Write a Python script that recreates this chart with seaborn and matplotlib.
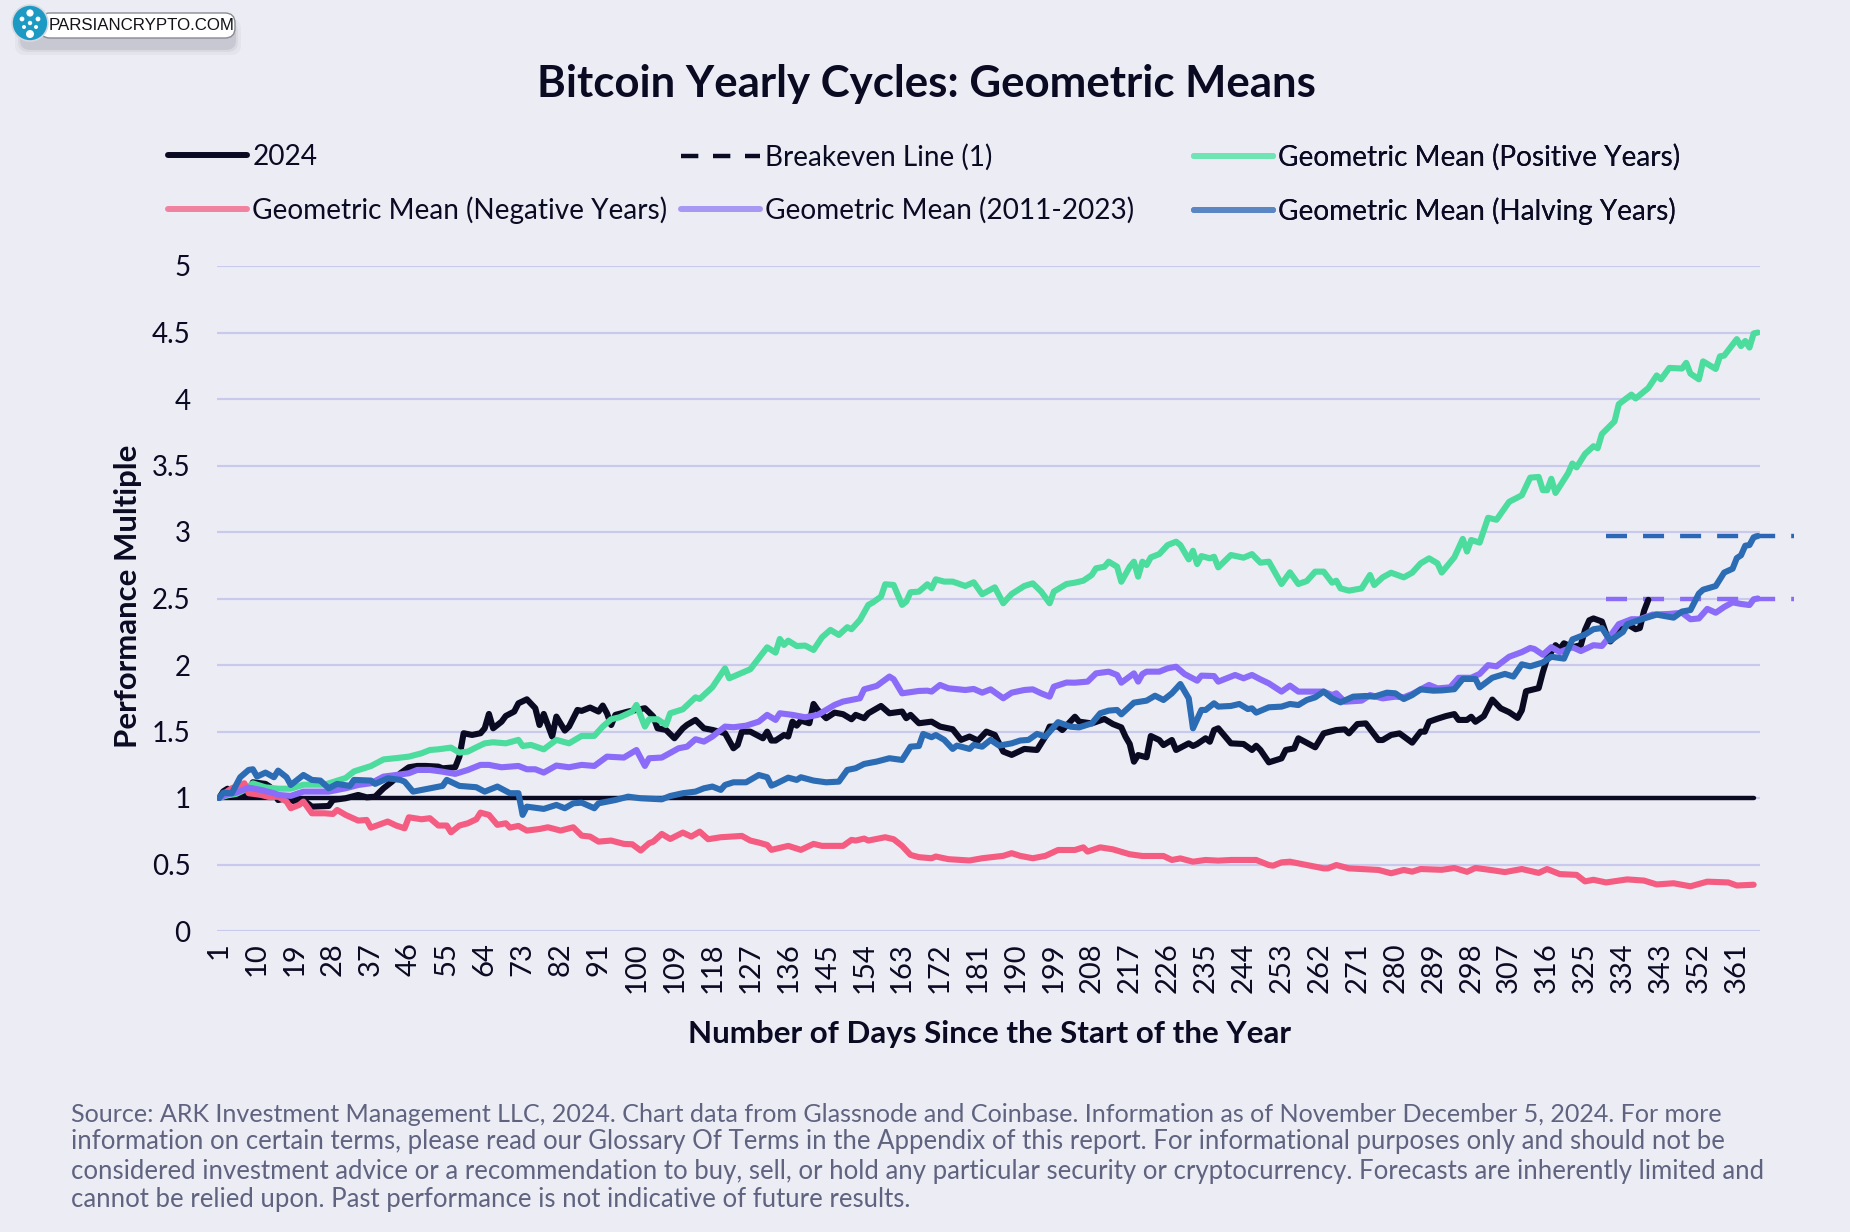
import matplotlib
matplotlib.use('Agg')
import matplotlib.pyplot as plt
import pandas as pd
import seaborn as sns
from matplotlib.lines import Line2D
from matplotlib.patches import Circle, FancyBboxPatch

# Значения: (день, множитель)
cycle_2024 = [
    (1, 1.0), (2, 1.05), (3, 1.07), (4, 1.02), (6, 1.01), (8, 1.048), (9, 1.118), (12, 1.106), (13, 1.086),
    (14, 1.036), (15, 0.985), (17, 0.998), (19, 0.973), (21, 0.985), (23, 0.935), (27, 0.94), (28, 0.985),
    (31, 0.998), (34, 1.023), (36, 1.005), (38, 1.01), (40, 1.073), (42, 1.123), (44, 1.186), (46, 1.231),
    (48, 1.241), (50, 1.241), (53, 1.236), (54, 1.223), (57, 1.231), (58, 1.311), (59, 1.487), (61, 1.474),
    (63, 1.487), (64, 1.524), (65, 1.632), (66, 1.524), (68, 1.574), (69, 1.617), (71, 1.65), (72, 1.712),
    (74, 1.742), (76, 1.675), (77, 1.549), (78, 1.632), (80, 1.462), (81, 1.612), (83, 1.507), (84, 1.537),
    (86, 1.662), (87, 1.655), (89, 1.68), (91, 1.65), (92, 1.695), (93, 1.637), (94, 1.549), (95, 1.625),
    (98, 1.65), (100, 1.662), (102, 1.675), (104, 1.612), (105, 1.524), (107, 1.512), (109, 1.449),
    (111, 1.524), (112, 1.55), (114, 1.587), (116, 1.524), (118, 1.512), (121, 1.487), (123, 1.374),
    (124, 1.399), (125, 1.499), (127, 1.499), (130, 1.449), (131, 1.499), (132, 1.432), (133, 1.432),
    (135, 1.474), (136, 1.462), (137, 1.574), (138, 1.544), (139, 1.582), (141, 1.562), (142, 1.707),
    (143, 1.662), (145, 1.6), (147, 1.642), (149, 1.63), (151, 1.592), (152, 1.625), (154, 1.6), (155, 1.637),
    (158, 1.692), (160, 1.637), (163, 1.65), (164, 1.6), (165, 1.625), (167, 1.562), (170, 1.574),
    (172, 1.537), (175, 1.517), (177, 1.437), (179, 1.462), (181, 1.432), (183, 1.499), (185, 1.474),
    (187, 1.349), (189, 1.324), (192, 1.369), (195, 1.361), (197, 1.462), (198, 1.537), (200, 1.537),
    (201, 1.511), (204, 1.611), (205, 1.574), (208, 1.561), (211, 1.594), (213, 1.556), (215, 1.531),
    (216, 1.461), (217, 1.406), (218, 1.273), (219, 1.323), (221, 1.306), (222, 1.466), (224, 1.436),
    (225, 1.398), (227, 1.436), (228, 1.361), (231, 1.411), (232, 1.391), (233, 1.406), (235, 1.449),
    (236, 1.423), (237, 1.511), (238, 1.524), (241, 1.411), (244, 1.406), (246, 1.361), (247, 1.393),
    (248, 1.361), (250, 1.268), (253, 1.298), (254, 1.361), (256, 1.373), (257, 1.449), (261, 1.381),
    (263, 1.486), (266, 1.511), (268, 1.516), (269, 1.486), (271, 1.556), (273, 1.561), (276, 1.436),
    (277, 1.436), (279, 1.474), (281, 1.486), (284, 1.416), (286, 1.499), (287, 1.499), (288, 1.574),
    (290, 1.596), (292, 1.616), (294, 1.631), (295, 1.587), (297, 1.587), (298, 1.611), (299, 1.573),
    (301, 1.616), (303, 1.74), (305, 1.674), (307, 1.645), (309, 1.602), (310, 1.659), (311, 1.803),
    (314, 1.826), (315, 1.947), (316, 2.048), (318, 2.149), (319, 2.12), (320, 2.163), (322, 2.134),
    (324, 2.149), (325, 2.264), (326, 2.336), (327, 2.35), (329, 2.327), (330, 2.235), (331, 2.177),
    (333, 2.249), (335, 2.307), (337, 2.269), (338, 2.278), (339, 2.407), (340, 2.49),
]

positive_years = [
    (1, 1.0), (3, 1.02), (5, 1.03), (7, 1.06), (9, 1.11), (12, 1.08), (15, 1.07), (18, 1.07), (21, 1.10),
    (26, 1.10), (28, 1.12), (31, 1.15), (33, 1.20), (37, 1.24), (40, 1.29), (43, 1.30), (46, 1.311),
    (49, 1.336), (51, 1.361), (53, 1.366), (56, 1.379), (58, 1.341), (60, 1.349), (62, 1.381), (64, 1.411),
    (66, 1.419), (69, 1.411), (72, 1.437), (73, 1.391), (75, 1.399), (78, 1.366), (81, 1.437), (84, 1.411),
    (87, 1.467), (90, 1.467), (92, 1.537), (94, 1.592), (96, 1.607), (99, 1.65), (100, 1.70), (102, 1.537),
    (103, 1.592), (105, 1.592), (107, 1.549), (108, 1.637), (111, 1.667), (114, 1.757), (115, 1.745),
    (118, 1.833), (121, 1.975), (122, 1.90), (127, 1.968), (129, 2.05), (131, 2.133), (133, 2.093),
    (134, 2.196), (135, 2.151), (136, 2.183), (138, 2.143), (140, 2.146), (142, 2.113), (144, 2.208),
    (146, 2.264), (148, 2.226), (150, 2.284), (151, 2.269), (153, 2.339), (155, 2.452), (156, 2.469),
    (158, 2.514), (159, 2.607), (161, 2.602), (163, 2.452), (164, 2.477), (165, 2.547), (167, 2.552),
    (169, 2.607), (170, 2.577), (171, 2.644), (173, 2.627), (175, 2.627), (178, 2.594), (180, 2.622),
    (182, 2.532), (185, 2.584), (187, 2.464), (189, 2.534), (192, 2.594), (194, 2.614), (196, 2.552),
    (198, 2.464), (199, 2.552), (202, 2.609), (204, 2.619), (206, 2.634), (208, 2.677), (209, 2.727),
    (211, 2.739), (212, 2.777), (214, 2.739), (215, 2.626), (217, 2.739), (218, 2.777), (219, 2.664),
    (220, 2.777), (221, 2.752), (222, 2.809), (224, 2.834), (226, 2.902), (228, 2.927), (229, 2.902),
    (231, 2.794), (232, 2.859), (233, 2.759), (234, 2.819), (236, 2.802), (237, 2.814), (238, 2.734),
    (241, 2.827), (244, 2.807), (246, 2.834), (248, 2.769), (250, 2.777), (252, 2.664), (253, 2.609),
    (255, 2.697), (257, 2.609), (259, 2.631), (261, 2.702), (263, 2.702), (265, 2.619), (266, 2.634),
    (267, 2.576), (269, 2.559), (272, 2.576), (274, 2.677), (275, 2.601), (277, 2.659), (279, 2.694),
    (282, 2.659), (284, 2.694), (286, 2.764), (288, 2.802), (290, 2.764), (291, 2.695), (294, 2.81),
    (296, 2.948), (297, 2.853), (298, 2.94), (300, 2.92), (302, 3.107), (304, 3.092), (307, 3.227),
    (310, 3.276), (312, 3.409), (314, 3.414), (315, 3.314), (316, 3.314), (317, 3.40), (318, 3.294),
    (321, 3.443), (322, 3.515), (323, 3.486), (325, 3.587), (327, 3.645), (328, 3.63), (329, 3.737),
    (332, 3.832), (333, 3.961), (336, 4.033), (337, 4.004), (340, 4.082), (342, 4.177), (343, 4.148),
    (345, 4.234), (348, 4.229), (349, 4.272), (350, 4.191), (352, 4.148), (353, 4.283), (356, 4.226),
    (357, 4.321), (358, 4.326), (361, 4.45), (362, 4.398), (363, 4.436), (364, 4.387), (365, 4.493),
    (366, 4.5),
]

negative_years = [
    (1, 1.0), (2, 1.03), (4, 1.073), (6, 1.098), (7, 1.111), (8, 1.036), (11, 1.023), (13, 1.006), (15, 1.01),
    (17, 0.973), (18, 0.923), (20, 0.948), (21, 0.973), (23, 0.885), (26, 0.885), (28, 0.88), (29, 0.91),
    (31, 0.873), (34, 0.83), (36, 0.835), (37, 0.777), (41, 0.823), (43, 0.793), (45, 0.772), (46, 0.855),
    (49, 0.84), (51, 0.848), (53, 0.793), (55, 0.793), (56, 0.742), (58, 0.793), (60, 0.81), (62, 0.84),
    (63, 0.89), (65, 0.873), (67, 0.798), (69, 0.81), (70, 0.777), (72, 0.79), (74, 0.755), (77, 0.767),
    (79, 0.78), (82, 0.755), (85, 0.78), (87, 0.717), (89, 0.71), (91, 0.672), (94, 0.68), (97, 0.655),
    (99, 0.652), (101, 0.605), (103, 0.66), (104, 0.672), (106, 0.73), (108, 0.692), (111, 0.74), (113, 0.71),
    (115, 0.747), (117, 0.69), (120, 0.705), (125, 0.715), (127, 0.68), (129, 0.665), (131, 0.647),
    (132, 0.61), (136, 0.64), (139, 0.61), (142, 0.655), (144, 0.64), (149, 0.64), (151, 0.685), (152, 0.68),
    (154, 0.695), (155, 0.68), (159, 0.705), (161, 0.69), (163, 0.64), (165, 0.572), (167, 0.555),
    (170, 0.547), (171, 0.56), (174, 0.54), (179, 0.53), (182, 0.547), (187, 0.565), (189, 0.585),
    (191, 0.565), (194, 0.547), (197, 0.565), (200, 0.609), (204, 0.609), (206, 0.629), (207, 0.597),
    (210, 0.629), (213, 0.614), (217, 0.577), (220, 0.564), (225, 0.564), (227, 0.534), (229, 0.546),
    (232, 0.521), (235, 0.534), (238, 0.529), (241, 0.534), (247, 0.534), (250, 0.496), (251, 0.491),
    (253, 0.516), (255, 0.521), (259, 0.496), (263, 0.471), (264, 0.471), (266, 0.496), (269, 0.471),
    (272, 0.466), (276, 0.459), (279, 0.434), (282, 0.459), (284, 0.446), (286, 0.466), (291, 0.46),
    (294, 0.474), (297, 0.445), (299, 0.474), (303, 0.457), (306, 0.443), (310, 0.466), (314, 0.437),
    (316, 0.466), (319, 0.428), (323, 0.422), (325, 0.373), (327, 0.385), (330, 0.365), (335, 0.388),
    (339, 0.379), (342, 0.35), (346, 0.359), (350, 0.336), (354, 0.371), (359, 0.365), (361, 0.342),
    (365, 0.348),
]

all_years = [
    (1, 1.0), (3, 1.03), (5, 1.04), (8, 1.078), (11, 1.06), (14, 1.036), (15, 1.023), (18, 1.016), (21, 1.048),
    (24, 1.048), (27, 1.048), (31, 1.073), (34, 1.098), (37, 1.111), (40, 1.161), (43, 1.173), (46, 1.186),
    (48, 1.211), (51, 1.211), (54, 1.198), (57, 1.181), (60, 1.211), (63, 1.249), (65, 1.249), (68, 1.231),
    (72, 1.241), (74, 1.216), (76, 1.216), (78, 1.191), (81, 1.244), (84, 1.231), (87, 1.249), (90, 1.241),
    (93, 1.311), (97, 1.304), (100, 1.361), (102, 1.241), (103, 1.299), (106, 1.304), (110, 1.374),
    (112, 1.386), (114, 1.442), (116, 1.424), (118, 1.462), (121, 1.537), (123, 1.532), (126, 1.544),
    (129, 1.574), (131, 1.625), (133, 1.587), (134, 1.637), (137, 1.625), (140, 1.607), (143, 1.625),
    (147, 1.70), (149, 1.725), (153, 1.75), (154, 1.817), (157, 1.843), (160, 1.913), (161, 1.893),
    (163, 1.787), (167, 1.805), (169, 1.807), (170, 1.80), (172, 1.85), (174, 1.825), (178, 1.812),
    (180, 1.82), (182, 1.792), (184, 1.817), (187, 1.75), (189, 1.792), (192, 1.812), (194, 1.817),
    (196, 1.787), (198, 1.762), (199, 1.837), (202, 1.868), (204, 1.867), (207, 1.875), (209, 1.937),
    (212, 1.95), (214, 1.925), (215, 1.867), (218, 1.937), (219, 1.875), (220, 1.932), (221, 1.95),
    (224, 1.95), (226, 1.975), (228, 1.987), (230, 1.932), (233, 1.882), (234, 1.92), (237, 1.917),
    (238, 1.875), (242, 1.925), (244, 1.90), (246, 1.925), (248, 1.892), (250, 1.862), (253, 1.80),
    (255, 1.845), (257, 1.80), (261, 1.80), (263, 1.80), (265, 1.774), (266, 1.787), (268, 1.724),
    (272, 1.732), (274, 1.774), (277, 1.749), (280, 1.762), (282, 1.757), (284, 1.782), (288, 1.85),
    (290, 1.824), (293, 1.832), (295, 1.904), (298, 1.904), (300, 1.933), (302, 1.999), (304, 1.99),
    (307, 2.062), (310, 2.097), (312, 2.128), (313, 2.12), (315, 2.077), (317, 2.134), (319, 2.097),
    (322, 2.134), (324, 2.105), (327, 2.149), (329, 2.143), (331, 2.22), (333, 2.307), (336, 2.344),
    (338, 2.344), (341, 2.379), (345, 2.384), (348, 2.393), (350, 2.344), (352, 2.35), (354, 2.422),
    (356, 2.393), (358, 2.436), (360, 2.471), (362, 2.459), (364, 2.451), (365, 2.494), (366, 2.5),
]

halving_years = [
    (1, 1.0), (2, 1.04), (4, 1.035), (6, 1.156), (8, 1.211), (9, 1.216), (10, 1.161), (12, 1.191), (14, 1.156),
    (15, 1.206), (17, 1.156), (18, 1.098), (21, 1.173), (23, 1.136), (25, 1.131), (27, 1.073), (29, 1.106),
    (32, 1.091), (33, 1.136), (37, 1.131), (38, 1.106), (41, 1.148), (44, 1.136), (45, 1.123), (47, 1.048),
    (51, 1.073), (54, 1.091), (55, 1.136), (58, 1.091), (62, 1.081), (64, 1.048), (67, 1.086), (70, 1.036),
    (72, 1.036), (73, 0.873), (74, 0.935), (78, 0.918), (81, 0.948), (83, 0.923), (85, 0.96), (87, 0.965),
    (90, 0.923), (91, 0.96), (95, 0.985), (98, 1.01), (101, 0.998), (106, 0.99), (108, 1.015), (111, 1.036),
    (114, 1.048), (116, 1.073), (118, 1.086), (120, 1.061), (121, 1.098), (123, 1.118), (126, 1.118),
    (129, 1.173), (131, 1.156), (132, 1.093), (133, 1.106), (136, 1.153), (138, 1.136), (139, 1.156),
    (142, 1.131), (145, 1.118), (148, 1.123), (150, 1.211), (152, 1.224), (154, 1.256), (157, 1.274),
    (160, 1.299), (163, 1.286), (165, 1.386), (167, 1.391), (168, 1.482), (170, 1.457), (171, 1.474),
    (173, 1.437), (175, 1.369), (176, 1.394), (179, 1.369), (180, 1.399), (182, 1.386), (184, 1.437),
    (186, 1.394), (189, 1.411), (191, 1.432), (193, 1.437), (195, 1.482), (197, 1.462), (200, 1.57),
    (203, 1.536), (205, 1.531), (208, 1.561), (210, 1.637), (212, 1.657), (214, 1.662), (215, 1.629),
    (218, 1.717), (221, 1.732), (223, 1.769), (225, 1.737), (227, 1.787), (229, 1.857), (231, 1.749),
    (232, 1.524), (234, 1.662), (235, 1.662), (237, 1.712), (238, 1.687), (241, 1.692), (243, 1.707),
    (245, 1.669), (246, 1.674), (247, 1.642), (250, 1.682), (253, 1.687), (255, 1.707), (257, 1.699),
    (259, 1.737), (261, 1.757), (263, 1.80), (265, 1.749), (267, 1.719), (270, 1.762), (273, 1.767),
    (275, 1.762), (278, 1.792), (280, 1.787), (282, 1.744), (284, 1.774), (286, 1.817), (289, 1.807),
    (291, 1.809), (294, 1.818), (296, 1.895), (299, 1.895), (300, 1.832), (303, 1.904), (306, 1.933),
    (308, 1.913), (310, 2.005), (312, 1.99), (315, 2.019), (317, 2.062), (320, 2.048), (322, 2.192),
    (325, 2.229), (327, 2.269), (329, 2.278), (331, 2.183), (334, 2.249), (335, 2.307), (339, 2.35),
    (342, 2.379), (346, 2.356), (348, 2.402), (350, 2.413), (352, 2.537), (353, 2.566), (356, 2.594),
    (358, 2.695), (360, 2.724), (361, 2.804), (362, 2.825), (363, 2.897), (364, 2.902), (365, 2.96),
    (366, 2.97),
]

breakeven = [(1, 1.0), (365, 1.0)]

# Пунктирные отметки справа: уровни конца года
end_levels = {'halving': 2.967, 'all': 2.496}
end_days = [330, 374.5]

y_ticks = [0, 0.5, 1, 1.5, 2, 2.5, 3, 3.5, 4, 4.5, 5]
y_labels = ['0', '0.5', '1', '1.5', '2', '2.5', '3', '3.5', '4', '4.5', '5']
x_ticks = list(range(1, 362, 9))

title = 'Bitcoin Yearly Cycles: Geometric Means'
footer = [
    'Source: ARK Investment Management LLC, 2024. Chart data from Glassnode and Coinbase. Information as of November December 5, 2024. For more',
    'information on certain terms, please read our Glossary Of Terms in the Appendix of this report. For informational purposes only and should not be',
    'considered investment advice or a recommendation to buy, sell, or hold any particular security or cryptocurrency. Forecasts are inherently limited and',
    'cannot be relied upon. Past performance is not indicative of future results.',
]

BG = '#ecedf4'
INK = '#0a0a23'
colors = {
    '2024': INK,
    'Breakeven Line (1)': INK,
    'Geometric Mean (Positive Years)': '#4bdc9e',
    'Geometric Mean (Negative Years)': '#f55c82',
    'Geometric Mean (2011-2023)': '#8a6cf8',
    'Geometric Mean (Halving Years)': '#2b6cb4',
}
legend_colors = {
    '2024': INK,
    'Breakeven Line (1)': INK,
    'Geometric Mean (Positive Years)': '#6fe4b4',
    'Geometric Mean (Negative Years)': '#f0829f',
    'Geometric Mean (2011-2023)': '#a698f3',
    'Geometric Mean (Halving Years)': '#5a86c4',
}

sns.set_theme(style='whitegrid', rc={
    'figure.facecolor': BG,
    'axes.facecolor': BG,
    'grid.color': '#c9c9ee',
    'grid.linewidth': 1.6,
    'axes.edgecolor': BG,
})
plt.rcParams['font.family'] = ['Lato', 'DejaVu Sans']

W, H = 1850, 1232
fig = plt.figure(figsize=(W / 100, H / 100), dpi=100)
ax = fig.add_axes([217 / W, 1 - 931 / H, (1760 - 217) / W, (931 - 266) / H])

# Полный холст в пикселях для текста и логотипа
ov = fig.add_axes([0, 0, 1, 1], zorder=5)
ov.set_xlim(0, W)
ov.set_ylim(H, 0)
ov.axis('off')
ov.patch.set_alpha(0)

frames = []
for name, rows in [('Breakeven Line (1)', breakeven), ('2024', cycle_2024),
                   ('Geometric Mean (Positive Years)', positive_years),
                   ('Geometric Mean (Negative Years)', negative_years),
                   ('Geometric Mean (2011-2023)', all_years),
                   ('Geometric Mean (Halving Years)', halving_years)]:
    part = pd.DataFrame(rows, columns=['day', 'value'])
    part['series'] = name
    frames.append(part)
df = pd.concat(frames, ignore_index=True)

line_w = {name: 4.4 for name in colors}
line_w['Breakeven Line (1)'] = 3.2
sns.lineplot(data=df, x='day', y='value', hue='series', size='series', sizes=line_w, palette=colors,
             estimator=None, sort=False, legend=False, ax=ax,
             solid_joinstyle='round', solid_capstyle='round')

# Пунктир выходит за правый край осей
ax.plot(end_days, [end_levels['halving']] * 2, color='#2b67b5', lw=3.2, clip_on=False,
        linestyle=(0, (21 / 4.44, 16 / 4.44)), dash_capstyle='butt', zorder=1.5)
ax.plot(end_days, [end_levels['all']] * 2, color='#8a6cf8', lw=3.2, clip_on=False,
        linestyle=(0, (21 / 4.44, 16 / 4.44)), dash_capstyle='butt', zorder=1.5)

ax.set_xlim(0.5, 366.5)
ax.set_ylim(0, 5)
ax.set_yticks(y_ticks)
ax.set_yticklabels(y_labels)
ax.set_xticks(x_ticks)
ax.set_xticklabels([str(d) for d in x_ticks], rotation=90)
ax.grid(False, axis='x')
ax.set_xlabel('')
ax.set_ylabel('')
ax.tick_params(axis='x', length=0, labelsize=21, labelcolor=INK, pad=8)
ax.tick_params(axis='y', length=0, labelsize=20, labelcolor=INK, pad=19)
for side in ax.spines:
    ax.spines[side].set_visible(False)

ov.text(926, 84, title, ha='center', va='center', fontsize=31.5, fontweight='bold', color=INK)
ov.text(989, 1034, 'Number of Days Since the Start of the Year', ha='center', va='center',
        fontsize=22.6, fontweight='bold', color=INK)
ov.text(128, 596, 'Performance Multiple', ha='center', va='center', rotation=90,
        fontsize=22.4, fontweight='bold', color=INK)
for y, size, line in zip([1114, 1142, 1172, 1200], [18.12, 18.55, 18.55, 18.55], footer):
    ov.text(71, y, line, ha='left', va='center', fontsize=size, color='#5f6380')


def legend_column(names, x):
    """Столбец легенды: равные колонки, поэтому три отдельные легенды"""
    handles = []
    for name in names:
        style = (0, (3.9, 3.3)) if name.startswith('Breakeven') else '-'
        handles.append(Line2D([], [], color=legend_colors[name], lw=4.3 if style == '-' else 3.2, linestyle=style,
                              solid_capstyle='round', dash_capstyle='butt'))
    leg = ov.legend(handles, names, loc='upper left', bbox_to_anchor=(x, 144), bbox_transform=ov.transData,
                    frameon=False, fontsize=20.2, labelspacing=0.93, handlelength=2.8, handletextpad=0.2,
                    borderpad=0, borderaxespad=0, labelcolor=INK)
    ov.add_artist(leg)


legend_column(['2024', 'Geometric Mean (Negative Years)'], 168)
legend_column(['Breakeven Line (1)', 'Geometric Mean (2011-2023)'], 681)
legend_column(['Geometric Mean (Positive Years)', 'Geometric Mean (Halving Years)'], 1194)

# Логотип в левом верхнем углу
for pad, alpha in [(7, 0.05), (4, 0.08), (2, 0.12)]:
    ov.add_patch(FancyBboxPatch((22 - pad, 26 - pad), 212 + 2 * pad, 22 + 2 * pad,
                                boxstyle='round,pad=0,rounding_size=10', fc='#50536a', ec='none', alpha=alpha))
ov.add_patch(FancyBboxPatch((40, 13), 195, 25, boxstyle='round,pad=0,rounding_size=10',
                            fc='white', ec='#8a8a95', lw=1))
ov.add_patch(Circle((30, 23), 18, fc='#1c9ac4', ec='#d8d8e0', lw=1.2))
for cx, cy, r in [(30, 13, 3.6), (22, 19, 2.4), (38, 19, 2.4), (24, 27, 2.0), (36, 27, 2.0), (30, 34, 4.0), (30, 23, 2.2)]:
    ov.add_patch(Circle((cx, cy), r, fc='white', ec='none'))
ov.text(49, 26, 'PARSIANCRYPTO.COM', ha='left', va='center', fontsize=12.2, color='#111118',
        family=['Liberation Sans', 'DejaVu Sans'])

fig.savefig('out.png', dpi=100, facecolor=BG)
